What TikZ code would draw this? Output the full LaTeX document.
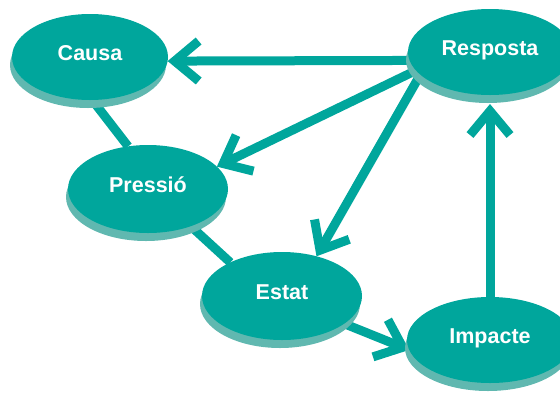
\documentclass[tikz,border=0pt]{standalone}
\usepackage{fontspec}
\setmainfont{Liberation Sans}
\usetikzlibrary{arrows.meta,shapes.geometric,shadows,backgrounds}
\definecolor{discteal}{RGB}{0,166,156}
\definecolor{discrim}{RGB}{96,184,176}
\begin{document}
\begin{tikzpicture}[x=1pt,y=-1pt,
  disc/.style={ellipse, fill=discteal, inner sep=0pt, outer sep=0pt,
    text=white, font=\bfseries\fontsize{21.5}{25}\selectfont,
    text height=0.716em, text depth=0pt,
    drop shadow={shadow xshift=-2pt,shadow yshift=-8pt,fill=discrim,opacity=1}},
  link/.style={draw=discteal, line width=9pt},
  flow/.style={link, -{Straight Barb[length=24pt,width=40pt]}}]
\useasboundingbox (0,0) rectangle (560,392);
\clip (0,0) rectangle (560,392);

% the five stages of the cycle
\node[disc, minimum width=156pt, minimum height=86pt] (causa) at (90,57) {Causa};
\node[disc, minimum width=164pt, minimum height=86pt] (resp)  at (490,52) {Resposta};
\node[disc, minimum width=160pt, minimum height=88pt] (pres)  at (148,189) {Pressió};
\node[disc, minimum width=160pt, minimum height=88pt] (estat) at (282,296) {Estat};
\node[disc, minimum width=166pt, minimum height=86pt] (imp)   at (490,340) {Impacte};

% connectors run behind the discs
\begin{scope}[on background layer]
  \draw[link] (causa.273) -- (pres.115);
  \draw[link] (pres.319) -- (estat.147);
  \draw[flow] (resp.186) -- (causa.357);
  \draw[flow] (resp.194) -- (pres.18);
  \draw[flow] (resp.198) -- (estat.49);
  \draw[flow] (estat.336) -- (imp.187);
  \draw[flow, shorten >=9pt] (imp.90) -- (resp.270);
\end{scope}
\end{tikzpicture}
\end{document}
